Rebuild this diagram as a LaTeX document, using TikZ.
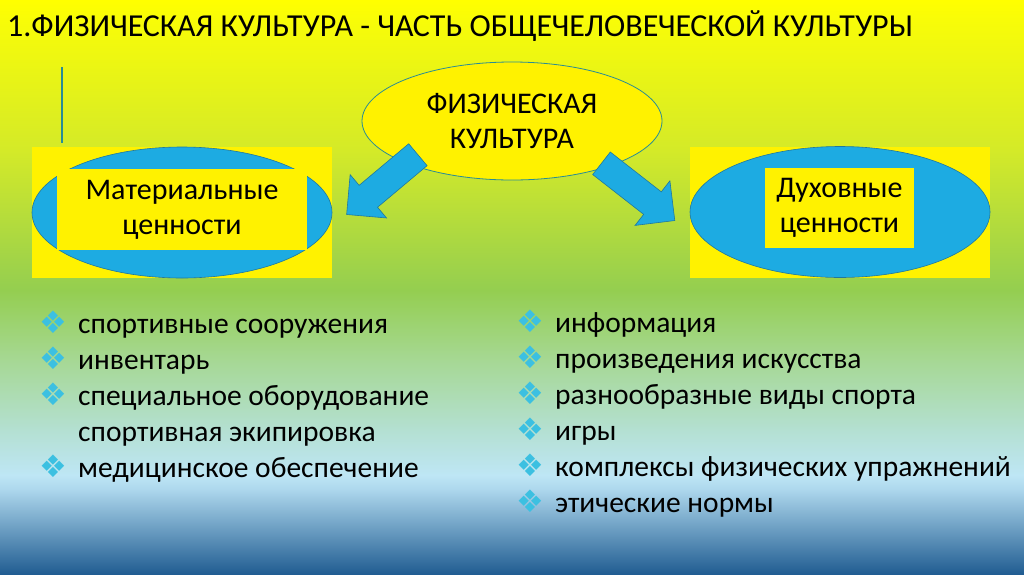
\documentclass[tikz,border=0pt]{standalone}
\usepackage{fontspec}
\setmainfont{Carlito}
\newfontfamily\symfont{DejaVu Sans}
\usetikzlibrary{shapes.geometric,shapes.arrows,positioning,calc}

\definecolor{bg0}{RGB}{255,255,0}
\definecolor{bg1}{RGB}{248,252,8}
\definecolor{bg2}{RGB}{212,234,40}
\definecolor{bg3}{RGB}{148,206,80}
\definecolor{bg4}{RGB}{166,216,148}
\definecolor{bg5}{RGB}{180,224,210}
\definecolor{bg6}{RGB}{190,230,245}
\definecolor{bg7}{RGB}{172,214,236}
\definecolor{bg8}{RGB}{32,92,145}
\definecolor{skyblue}{RGB}{29,171,226}
\definecolor{ovaledge}{RGB}{30,120,160}
\definecolor{tealline}{RGB}{40,140,150}
\definecolor{bulcol}{RGB}{60,192,225}

\begin{document}
\begin{tikzpicture}[x=1pt,y=-1pt,inner sep=0pt]
       \tikzstyle{panel}=[fill=yellow,minimum width=300pt,minimum height=131pt]
       \tikzstyle{oval}=[ellipse,fill=skyblue,draw=ovaledge,line width=0.6pt,minimum width=300pt,minimum height=131pt]
       \tikzstyle{valtext}=[fill=yellow,align=center,font=\fontsize{30}{35}\selectfont]
       \tikzstyle{blockarrow}=[single arrow,fill=skyblue,draw=ovaledge,line width=0.6pt,inner sep=14pt,single arrow head extend=14pt,minimum height=93pt]
       \tikzstyle{item}=[anchor=base west,font=\fontsize{29.5}{36}\selectfont]
       \tikzstyle{bul}=[anchor=base,text=bulcol,font=\symfont\fontsize{31}{31}\selectfont]

       \useasboundingbox (0,0) rectangle (1024,574);
       \foreach \ya/\yb/\ca/\cb in {0/20/bg0/bg1, 20/150/bg1/bg2, 150/290/bg2/bg3,
                                    290/360/bg3/bg4, 360/430/bg4/bg5, 430/475/bg5/bg6,
                                    475/490/bg6/bg7, 490/574/bg7/bg8}
         \shade[top color=\ca,bottom color=\cb] (0,\ya) rectangle (1024,\yb+0.6);

       \node[anchor=base west,font=\fontsize{32}{36}\selectfont] (title) at (7,36)
         {1.ФИЗИЧЕСКАЯ КУЛЬТУРА - ЧАСТЬ ОБЩЕЧЕЛОВЕЧЕСКОЙ КУЛЬТУРЫ};
       \draw[tealline,line width=2pt] (62,67) -- (62,143);

       \node[ellipse,fill=yellow,draw=tealline,line width=0.8pt,minimum width=300pt,minimum height=118pt,
             align=center,font=\fontsize{30}{35}\selectfont] (phys) at (512,121) {ФИЗИЧЕСКАЯ\\КУЛЬТУРА};

       \node[panel] (matpanel) at (182,212.5) {};
       \node[oval]  (matoval)  at (matpanel) {};
       \node[valtext,minimum width=250pt,minimum height=81pt] (mat) at (182,209.5) {Материальные\\ценности};

       \node[panel] (duhpanel) at (840,212) {};
       \node[oval]  (duhoval)  at (duhpanel) {};
       \node[valtext,minimum width=149pt,minimum height=80pt] (duh) at (839.5,208) {Духовные\\ценности};

       \coordinate (lt) at (423.5,150);
       \coordinate (lh) at (352,210);
       \coordinate (rt) at (595,158);
       \coordinate (rh) at (670,217);
       \node[blockarrow,rotate=220] (toMat) at ($(lt)!0.5!(lh)$) {};
       \node[blockarrow,rotate=-38] (toDuh) at ($(rt)!0.5!(rh)$) {};

       % material values
       \foreach \t [count=\i] in {спортивные сооружения, инвентарь, специальное оборудование,
                                  спортивная экипировка, медицинское обеспечение}
         \node[item] (m_\i) at (78,297+36*\i) {\t};
       \foreach \i in {1,2,3,5}
         \node[bul] at (53,297+36*\i) {❖};

       % spiritual values
       \foreach \t [count=\i] in {информация, произведения искусства, разнообразные виды спорта,
                                  игры, комплексы физических упражнений, этические нормы}
         \node[item] (d_\i) at (555,296+36*\i) {\t};
       \foreach \i in {1,...,6}
         \node[bul] at (530,296+36*\i) {❖};
     \end{tikzpicture}
\end{document}
